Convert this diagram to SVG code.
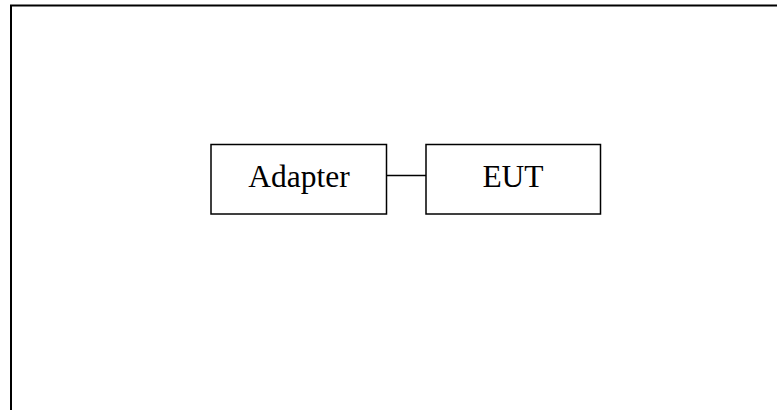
<svg xmlns="http://www.w3.org/2000/svg" width="777" height="410" viewBox="0 0 777 410">
<style>
.box{fill:#fff;stroke:#000;stroke-width:1.5}
.lbl{font-family:"Liberation Serif","Times New Roman",serif;font-size:31.5px;fill:#000;text-anchor:middle}
.conn{stroke:#000;stroke-width:1.5;fill:none}
</style>
<rect width="777" height="410" fill="#fff"/>
<g id="frame">
<path d="M11,410 V5.5 H777" fill="none" stroke="#000" stroke-width="2"/>
</g>
<g id="connectors">
<line class="conn" x1="384" y1="175.5" x2="426" y2="175.5"/>
</g>
<g id="adapter">
<rect class="box" x="211" y="144.5" width="175.5" height="69.5"/>
<text class="lbl" x="299" y="186.5">Adapter</text>
</g>
<g id="eut">
<rect class="box" x="426" y="144.5" width="174.5" height="69.5"/>
<text class="lbl" x="513" y="186.5">EUT</text>
</g>
</svg>
